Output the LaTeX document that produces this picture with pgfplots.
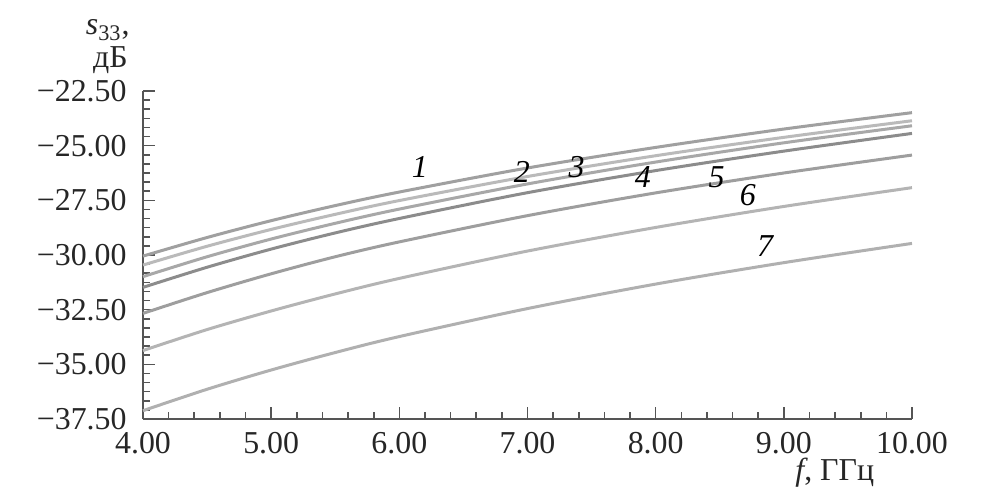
\documentclass[border=0pt]{standalone}
\usepackage{fontspec}
\setmainfont{Liberation Serif}
\usepackage{pgfplots}
\pgfplotsset{compat=1.18}
\definecolor{axgray}{RGB}{85,85,85}
\definecolor{c1}{RGB}{160,160,160}
\definecolor{c2}{RGB}{186,186,186}
\definecolor{c3}{RGB}{168,168,168}
\definecolor{c4}{RGB}{140,140,140}
\definecolor{c5}{RGB}{158,158,158}
\definecolor{c6}{RGB}{180,180,180}
\definecolor{c7}{RGB}{176,176,176}
\begin{document}
\fontsize{16}{19}\selectfont
\begin{tikzpicture}
\path[use as bounding box] (-71.5bp,-38bp) rectangle (431.5bp,209.5bp);
\begin{axis}[
  at={(0,0)}, anchor=south west,
  scale only axis, width=384.5bp, height=164bp,
  xmin=4, xmax=10, ymin=-37.5, ymax=-22.5,
  axis lines*=left,
  axis line style={color=axgray, line width=1bp, -},
  tick align=inside,
  major tick length=6bp, minor tick length=3.5bp,
  every tick/.style={color=axgray, line width=0.8bp},
  xtick={4,5,6,7,8,9,10},
  xticklabels={4.00,5.00,6.00,7.00,8.00,9.00,10.00},
  minor x tick num=4,
  ytick={-37.5,-35,-32.5,-30,-27.5,-25,-22.5},
  yticklabels={−37.50,−35.00,−32.50,−30.00,−27.50,−25.00,−22.50},
  minor y tick num=5,
  tick label style={font=\fontsize{16}{19}\selectfont, text=black!85},
  yticklabel style={xshift=-2.7bp},
  xticklabel style={yshift=-1.2bp},
  clip=false,
]
\addplot[c7, line width=1.5bp, smooth] coordinates {(4,-37.12)(4.5,-36.14)(5,-35.26)(5.5,-34.46)(6,-33.73)(7,-32.45)(8,-31.33)(9,-30.35)(10,-29.47)};
\addplot[c6, line width=1.5bp, smooth] coordinates {(4,-34.37)(4.5,-33.41)(5,-32.56)(5.5,-31.78)(6,-31.07)(7,-29.82)(8,-28.74)(9,-27.78)(10,-26.92)};
\addplot[c5, line width=1.5bp, smooth] coordinates {(4,-32.67)(4.5,-31.72)(5,-30.86)(5.5,-30.08)(6,-29.40)(7,-28.20)(8,-27.16)(9,-26.25)(10,-25.43)};
\addplot[c3, line width=1.5bp, smooth] coordinates {(4,-30.99)(4.5,-30.08)(5,-29.27)(5.5,-28.55)(6,-27.90)(7,-26.75)(8,-25.75)(9,-24.87)(10,-24.09)};
\addplot[c2, line width=1.5bp, smooth] coordinates {(4,-30.46)(4.5,-29.60)(5,-28.83)(5.5,-28.14)(6,-27.51)(7,-26.41)(8,-25.46)(9,-24.62)(10,-23.86)};
\addplot[c1, line width=1.5bp, smooth] coordinates {(4,-30.05)(4.5,-29.20)(5,-28.43)(5.5,-27.74)(6,-27.12)(7,-26.02)(8,-25.08)(9,-24.24)(10,-23.49)};
\addplot[c4, line width=1.5bp, smooth] coordinates {(4,-31.48)(4.5,-30.56)(5,-29.73)(5.5,-28.99)(6,-28.33)(7,-27.15)(8,-26.14)(9,-25.25)(10,-24.44)};
\node[font=\itshape] at (axis cs:6.16,-25.98) {1};
\node[font=\itshape] at (axis cs:6.955,-26.19) {2};
\node[font=\itshape] at (axis cs:7.384,-25.96) {3};
\node[font=\itshape] at (axis cs:7.90,-26.42) {4};
\node[font=\itshape] at (axis cs:8.476,-26.42) {5};
\node[font=\itshape] at (axis cs:8.72,-27.26) {6};
\node[font=\itshape] at (axis cs:8.853,-29.59) {7};
\end{axis}
\node[anchor=base east, inner sep=0pt, text=black!85] at (-6.5bp,192bp) {\textit{s}\textsubscript{33},};
\node[anchor=base east, inner sep=0pt, text=black!85] at (-7.5bp,175.5bp) {дБ};
\node[anchor=base west, inner sep=0pt, text=black!85] at (326bp,-30.5bp) {\textit{f}, ГГц};
\end{tikzpicture}
\end{document}
